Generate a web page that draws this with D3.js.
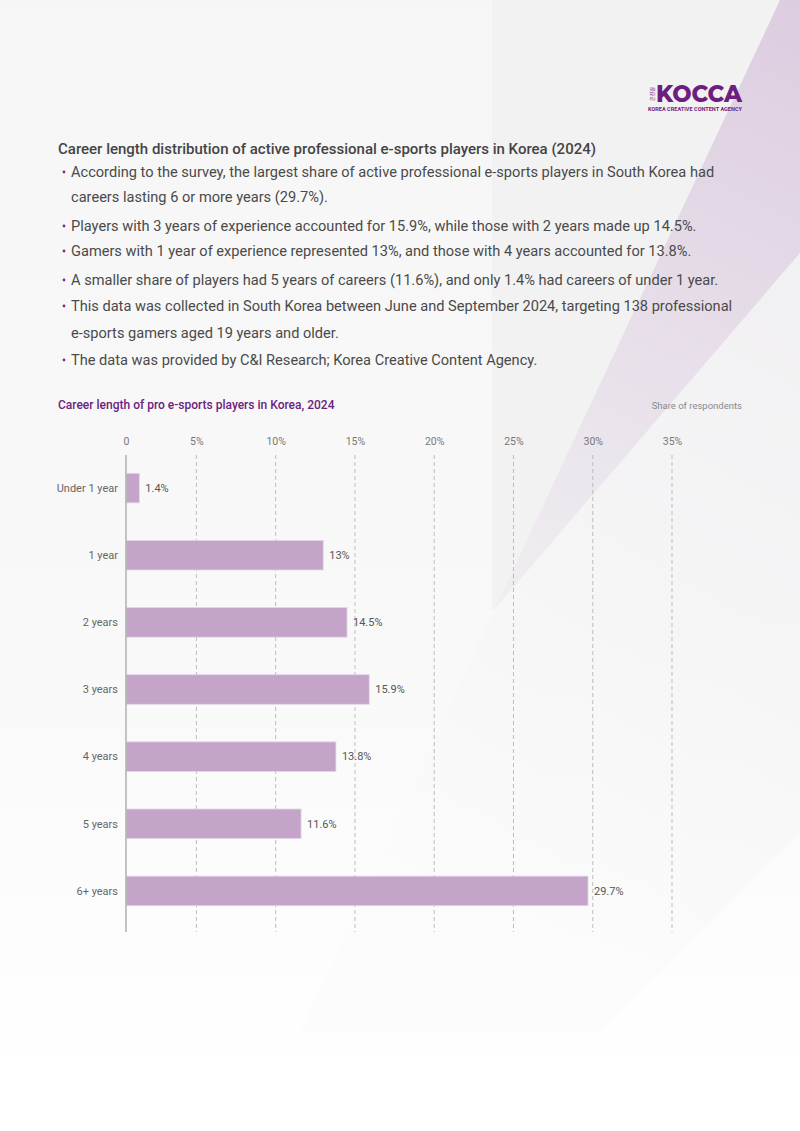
<!DOCTYPE html>
<html><head><meta charset="utf-8">
<script src="https://cdn.jsdelivr.net/npm/d3@7"></script>
<style>html,body{margin:0;padding:0;background:#fff;}svg{display:block;}</style>
</head><body>
<svg id="c" width="800" height="1131"></svg>
<script>
const categories = ["Under 1 year","1 year","2 years","3 years","4 years","5 years","6+ years"];
const values = [1.4, 13, 14.5, 15.9, 13.8, 11.6, 29.7];
const valueLabels = ["1.4%","13%","14.5%","15.9%","13.8%","11.6%","29.7%"];
const tickValues = [0,5,10,15,20,25,30,35];
const tickLabels = ["0","5%","10%","15%","20%","25%","30%","35%"];
const heading = "Career length distribution of active professional e-sports players in Korea (2024)";
const bullets = [
  ["According to the survey, the largest share of active professional e-sports players in South Korea had","careers lasting 6 or more years (29.7%)."],
  ["Players with 3 years of experience accounted for 15.9%, while those with 2 years made up 14.5%."],
  ["Gamers with 1 year of experience represented 13%, and those with 4 years accounted for 13.8%."],
  ["A smaller share of players had 5 years of careers (11.6%), and only 1.4% had careers of under 1 year."],
  ["This data was collected in South Korea between June and September 2024, targeting 138 professional","e-sports gamers aged 19 years and older."],
  ["The data was provided by C&I Research; Korea Creative Content Agency."]
];
const chartTitle = "Career length of pro e-sports players in Korea, 2024";
const unitLabel = "Share of respondents";

const svg = d3.select("#c");
const defs = svg.append("defs");
const g1 = defs.append("linearGradient").attr("id","bg").attr("x1",0).attr("y1",0).attr("x2",0).attr("y2",1);
g1.append("stop").attr("offset","0").attr("stop-color","#f6f6f6");
g1.append("stop").attr("offset","0.6").attr("stop-color","#f9f9f9");
g1.append("stop").attr("offset","0.95").attr("stop-color","#ffffff");
const g2 = defs.append("linearGradient").attr("id","pg").attr("gradientUnits","userSpaceOnUse")
  .attr("x1",800).attr("y1",0).attr("x2",520).attr("y2",600);
g2.append("stop").attr("offset","0").attr("stop-color","#dccde0");
g2.append("stop").attr("offset","0.5").attr("stop-color","#e6dde8");
g2.append("stop").attr("offset","1").attr("stop-color","#f0edf1");
const g3 = defs.append("linearGradient").attr("id","lg").attr("gradientUnits","userSpaceOnUse")
  .attr("x1",800).attr("y1",300).attr("x2",450).attr("y2",900);
g3.append("stop").attr("offset","0").attr("stop-color","#efedf0");
g3.append("stop").attr("offset","1").attr("stop-color","#fbfbfb");

svg.append("rect").attr("width",800).attr("height",1131).attr("fill","url(#bg)");
svg.append("path").attr("d","M492,0 L780,0 L494,610 L492,610 Z").attr("fill","#f2f2f2");
svg.append("path").attr("d","M494,610 L800,253 L800,833 L600,1033 L300,1033 Z").attr("fill","url(#lg)").attr("opacity",0.7);
svg.append("path").attr("d","M780,0 L800,0 L800,253 L494,610 Z").attr("fill","url(#pg)");

// logo
const logo = svg.append("g");
logo.append("text").attr("x",742).attr("y",102).attr("text-anchor","end")
  .attr("font-family","Montserrat, 'DejaVu Sans', sans-serif").attr("font-weight",800)
  .attr("font-size",23).attr("fill","#6e1d80").attr("textLength",86).attr("lengthAdjust","spacingAndGlyphs").text("KOCCA");
logo.append("text").attr("x",652).attr("y",96).attr("text-anchor","middle")
  .attr("transform","rotate(-90,652,94)").attr("font-family","'Noto Sans CJK KR'").attr("font-size",5).attr("fill","#6e1d80").text("콘진원");
logo.append("text").attr("x",742).attr("y",111).attr("text-anchor","end")
  .attr("font-family","Roboto").attr("font-weight",700).attr("font-size",5)
  .attr("fill","#6e1d80").attr("textLength",94).attr("lengthAdjust","spacingAndGlyphs").text("KOREA CREATIVE CONTENT AGENCY");

svg.append("text").attr("x",58).attr("y",154).attr("font-family","Roboto").attr("font-weight",500)
  .attr("font-size",15).attr("fill","#444").text(heading);

const lineYs = [[177,202],[231],[256],[285],[311,338],[365]];
bullets.forEach((b,i)=>{
  svg.append("circle").attr("cx",64).attr("cy",lineYs[i][0]-5).attr("r",1.4).attr("fill","#7a2d8c");
  b.forEach((t,j)=>{
    svg.append("text").attr("x",71).attr("y",lineYs[i][j]).attr("font-family","Roboto")
      .attr("font-size",14.6).attr("fill","#4a4a4a").text(t);
  });
});

svg.append("text").attr("x",58).attr("y",409).attr("font-family","Roboto").attr("font-weight",500)
  .attr("font-size",12).attr("fill","#6b2280").text(chartTitle);
svg.append("text").attr("x",742).attr("y",409).attr("text-anchor","end").attr("font-family","Roboto")
  .attr("font-size",9.5).attr("fill","#8a8a8a").text(unitLabel);

const x = d3.scaleLinear().domain([0,1,35]).range([126,133,672]);
const y = d3.scaleBand().domain(categories).range([454.5,924.5]).paddingInner(0.56).paddingOuter(0.28);
const plotTop = 455, plotBottom = 932;

const grid = svg.append("g");
grid.selectAll("line").data(tickValues.slice(1)).join("line")
  .attr("x1",d=>x(d)).attr("x2",d=>x(d)).attr("y1",plotTop).attr("y2",plotBottom)
  .attr("stroke","#bdbdbd").attr("stroke-width",1).attr("stroke-dasharray","4,3");

const xAxis = svg.append("g").attr("transform",`translate(0,${plotTop})`)
  .call(d3.axisTop(x).tickValues(tickValues).tickFormat((d,i)=>tickLabels[i]).tickSize(0).tickPadding(10));
xAxis.select(".domain").remove();
xAxis.selectAll("text").attr("font-family","Roboto").attr("font-size",10.5).attr("fill","#777");

svg.selectAll("rect.bar").data(values).join("rect").attr("class","bar")
  .attr("x",x(0)).attr("y",(d,i)=>y(categories[i])).attr("width",d=>x(d)-x(0)).attr("height",y.bandwidth())
  .attr("fill","#c4a4c9").attr("stroke","#e3d5e6").attr("stroke-width",0.8);

svg.append("line").attr("x1",x(0)).attr("x2",x(0)).attr("y1",plotTop).attr("y2",plotBottom)
  .attr("stroke","#b5b5b5").attr("stroke-width",1.6);

svg.selectAll("text.cat").data(categories).join("text").attr("class","cat")
  .attr("x",118).attr("y",d=>y(d)+y.bandwidth()/2).attr("dy","0.35em").attr("text-anchor","end")
  .attr("font-family","Roboto").attr("font-size",11).attr("fill","#666").text(d=>d);

svg.selectAll("text.val").data(values).join("text").attr("class","val")
  .attr("x",d=>x(d)+6).attr("y",(d,i)=>y(categories[i])+y.bandwidth()/2).attr("dy","0.35em")
  .attr("font-family","Roboto").attr("font-size",11).attr("fill","#555").text((d,i)=>valueLabels[i]);
</script>
</body></html>
